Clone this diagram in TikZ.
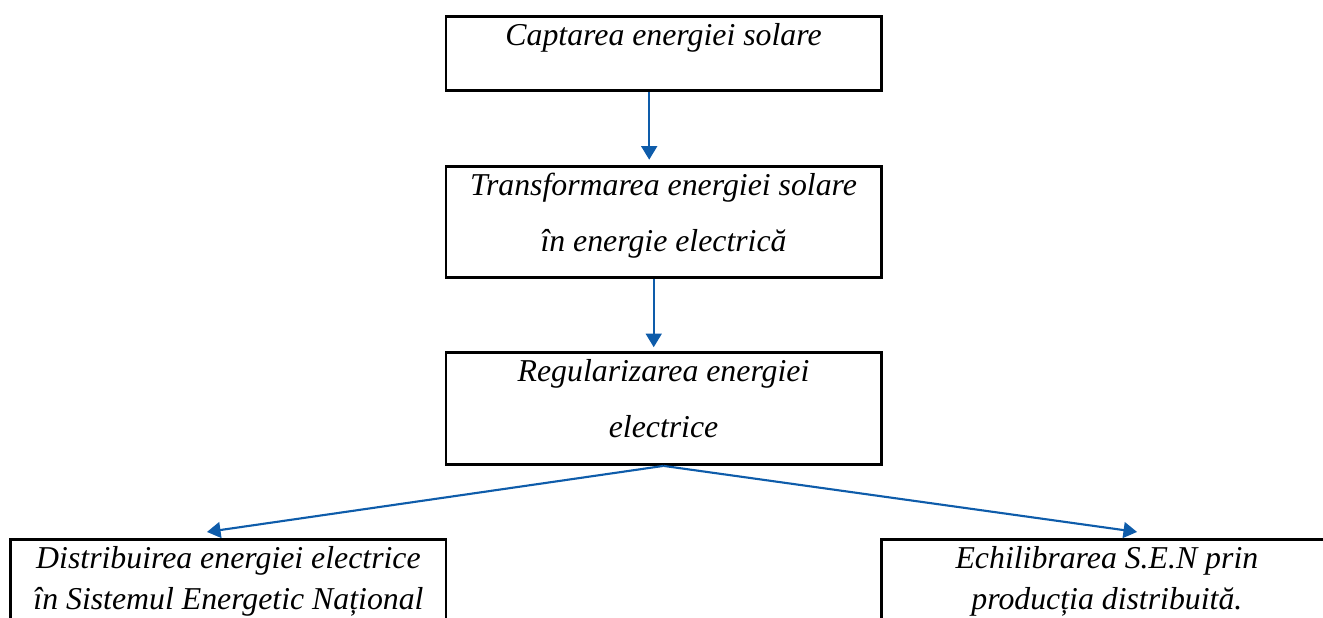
\documentclass[tikz,border=0pt]{standalone}
\usepackage{fontspec}
\setmainfont{Liberation Serif}
\usetikzlibrary{arrows.meta}
\definecolor{flowblue}{RGB}{14,92,170}

\tikzset{
  box/.style={draw,line width=1.1pt,inner xsep=0pt,inner ysep=0pt,align=center,anchor=north,
    minimum width=5.77cm,text height=1.122cm,text depth=0.35cm,font=\itshape\fontsize{12}{21.1}\selectfont},
  lowbox/.style={box,text height=0.925cm,text depth=0.4cm,font=\itshape\fontsize{12}{15.5}\selectfont},
  flow/.style={flowblue,line width=0.8pt,-{Triangle[length=1.8mm,width=2.1mm]}}
}

\begin{document}
\begin{tikzpicture}

\clip (0,0) rectangle (17.546,8.196);

\node[box,text height=0.38cm,text depth=0.6cm] (capt) at (8.80,7.997) {Captarea energiei solare};
\node[box] (transf) at (8.80,6.008) {Transformarea energiei solare\\ în energie electrică};
\node[box,text depth=0.363cm] (reg) at (8.80,3.541) {Regularizarea energiei\\ electrice};

\node[lowbox] (distr) at (3.03,1.061) {Distribuirea energiei electrice\\ în Sistemul Energetic Național};
\node[lowbox,minimum width=5.99cm] (echil) at (14.68,1.061) {Echilibrarea S.E.N prin\\ producția distribuită.};

\draw[flow] ([xshift=-1.9mm]capt.south) -- ([xshift=-1.9mm,yshift=0.7mm]transf.north);
\draw[flow] ([xshift=-1.3mm]transf.south) -- ([xshift=-1.3mm,yshift=0.5mm]reg.north);

\draw[flow] (reg.south) -- ([xshift=-2.85mm,yshift=0.8mm]distr.north);
\draw[flow] (reg.south) -- ([xshift=4mm,yshift=0.8mm]echil.north);

\end{tikzpicture}
\end{document}
